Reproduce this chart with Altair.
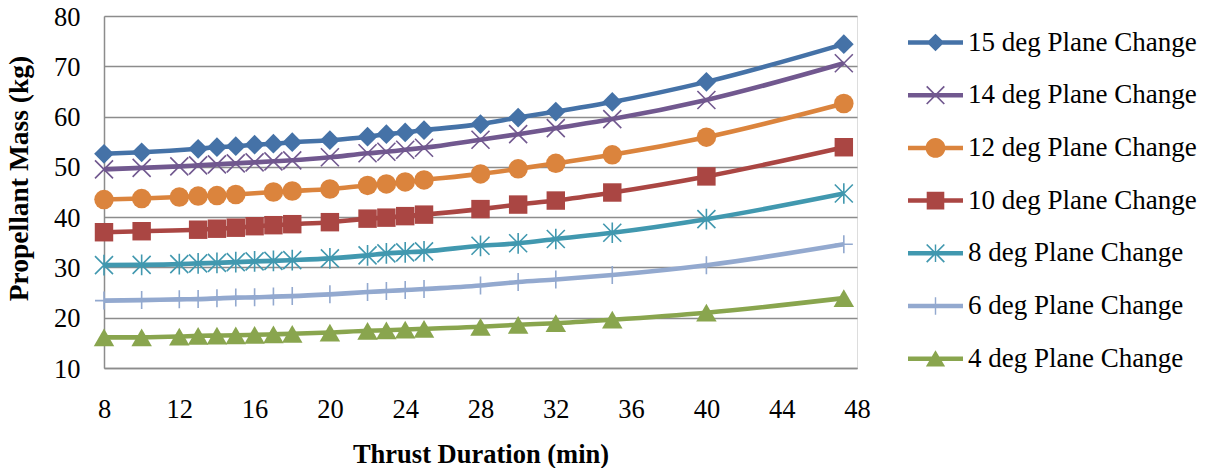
import json
import altair as alt
import pandas as pd

SERIES = ["15 deg Plane Change", "14 deg Plane Change", "12 deg Plane Change",
          "10 deg Plane Change", "8 deg Plane Change", "6 deg Plane Change",
          "4 deg Plane Change"]
COLORS = ["#4572A7", "#71588F", "#DB843D", "#AA4643", "#4198AF", "#93A9CF", "#89A54E"]

X_15 = [8, 10, 13, 14, 15, 16, 17, 18, 20, 22, 23, 24, 25, 28, 30, 32, 35, 40, 47.3]
Y_15 = [52.6, 52.9, 53.6, 53.9, 54.1, 54.4, 54.6, 54.9, 55.3, 56.0, 56.5, 56.85, 57.3, 58.5, 59.8, 61.0, 62.9, 66.9, 74.4]

X_14 = [8, 10, 12, 13, 14, 15, 16, 17, 18, 20, 22, 23, 24, 25, 28, 30, 32, 35, 40, 47.3]
Y_14 = [49.5, 49.8, 50.1, 50.3, 50.5, 50.7, 50.9, 51.1, 51.3, 51.9, 52.7, 53.0, 53.4, 53.8, 55.4, 56.5, 57.7, 59.5, 63.3, 70.6]

X_12 = [8, 10, 12, 13, 14, 15, 17, 18, 20, 22, 23, 24, 25, 28, 30, 32, 35, 40, 47.3]
Y_12 = [43.5, 43.7, 44.0, 44.2, 44.3, 44.5, 45.0, 45.2, 45.6, 46.3, 46.6, 47.0, 47.4, 48.6, 49.6, 50.7, 52.4, 55.9, 62.6]

X_10 = [8, 10, 13, 14, 15, 16, 17, 18, 20, 22, 23, 24, 25, 28, 30, 32, 35, 40, 47.3]
Y_10 = [37.0, 37.2, 37.5, 37.7, 37.9, 38.2, 38.4, 38.6, 39.0, 39.7, 39.9, 40.2, 40.5, 41.6, 42.5, 43.3, 44.9, 48.1, 53.9]

X_8 = [8, 10, 12, 13, 14, 15, 16, 17, 18, 20, 22, 23, 24, 25, 28, 30, 32, 35, 40, 47.3]
Y_8 = [30.45, 30.5, 30.65, 30.8, 30.9, 31.05, 31.2, 31.3, 31.45, 31.8, 32.4, 32.8, 33.0, 33.2, 34.3, 34.8, 35.65, 36.9, 39.6, 44.7]

X_6 = [8, 10, 12, 13, 14, 15, 16, 17, 18, 20, 22, 23, 24, 25, 28, 30, 32, 35, 40, 47.3]
Y_6 = [23.4, 23.5, 23.65, 23.7, 23.85, 24.0, 24.05, 24.2, 24.3, 24.65, 25.1, 25.3, 25.5, 25.7, 26.4, 27.1, 27.6, 28.5, 30.45, 34.6]

X_4 = [8, 10, 12, 13, 14, 15, 16, 17, 18, 20, 22, 23, 24, 25, 28, 30, 32, 35, 40, 47.3]
Y_4 = [16.1, 16.1, 16.25, 16.4, 16.45, 16.5, 16.6, 16.7, 16.8, 17.05, 17.4, 17.5, 17.65, 17.8, 18.2, 18.6, 18.9, 19.6, 21.0, 23.9]

X_TICKS = [8, 12, 16, 20, 24, 28, 32, 36, 40, 44, 48]
Y_TICKS = [10, 20, 30, 40, 50, 60, 70, 80]

XS = [X_15, X_14, X_12, X_10, X_8, X_6, X_4]
YS = [Y_15, Y_14, Y_12, Y_10, Y_8, Y_6, Y_4]

rows = []
for name, xs, ys in zip(SERIES, XS, YS):
    for x, y in zip(xs, ys):
        rows.append({"series": name, "t": x, "m": y})
df = pd.DataFrame(rows)

FONT = "Liberation Serif"
GRID = "#8c8c8c"

# marker shapes in the plot
SHAPES = ["diamond", "M-1,-1L1,1M-1,1L1,-1", "circle", "square",
          "M-1,-1L1,1M-1,1L1,-1M0,-1.15L0,1.15", "M0,-1L0,1M-1,0L1,0", "triangle-up"]
FILLED = [True, False, True, True, False, False, True]
SIZES = [390, 324, 380, 340, 324, 324, 420]

# legend symbols: line segment + marker, as filled paths
LINE = "M-1,-0.082L1,-0.082L1,0.082L-1,0.082Z"
a, e, t = 0.32, 0.022, 0.026
XP = (f"M{-a+e},{-a-e}L{a+e},{a-e}L{a-e},{a+e}L{-a-e},{-a+e}Z"
      f"M{a+e},{-a+e}L{-a+e},{a+e}L{-a-e},{a-e}L{a-e},{-a-e}Z")
VP = f"M{-t},{-a}L{t},{-a}L{t},{a}L{-t},{a}Z"
LEG_PATHS = [
    LINE + "M0,-0.32L0.32,0L0,0.32L-0.32,0Z",
    LINE + XP,
    LINE + "M-0.36,0A0.36,0.36 0 1,1 0.36,0A0.36,0.36 0 1,1 -0.36,0Z",
    LINE + "M-0.32,-0.32L0.32,-0.32L0.32,0.32L-0.32,0.32Z",
    LINE + XP + VP,
    LINE + VP,
    LINE + "M0,-0.31L0.35,0.28L-0.35,0.28Z",
]
idx = f"indexof({json.dumps(SERIES)}, datum.value)"
shape_expr = f"{json.dumps(LEG_PATHS)}[{idx}]"
fill_expr = f"{json.dumps(COLORS)}[{idx}]"

x_enc = alt.X("t:Q", scale=alt.Scale(domain=[8, 48], nice=False, zero=False),
              axis=alt.Axis(values=X_TICKS, grid=False, ticks=False,
                            domainColor=GRID, domainWidth=1.5,
                            labelFont=FONT, labelFontSize=26.5, labelColor="black",
                            labelBaseline="middle", labelPadding=41, labelFlush=False,
                            title="Thrust Duration (min)", titleFont=FONT,
                            titleFontSize=26.5, titleFontWeight="bold", titleColor="black",
                            titleBaseline="middle", titleY=86))
y_enc = alt.Y("m:Q", scale=alt.Scale(domain=[10, 80], nice=False, zero=False),
              axis=alt.Axis(values=Y_TICKS, grid=True, gridColor=GRID, gridWidth=1.5,
                            domainColor=GRID, domainWidth=1.5, ticks=False,
                            labelFont=FONT, labelFontSize=26.5, labelColor="black",
                            labelPadding=24, labelOffset=1,
                            title="Propellant Mass (kg)", titleFont=FONT,
                            titleFontSize=27.5, titleFontWeight="bold", titleColor="black",
                            titleBaseline="middle", titleAlign="center", titleAngle=270,
                            titleX=-85, titleY=162))

legend = alt.Legend(
    orient="none", legendX=804, legendY=-1, title=None, padding=0,
    labelFont=FONT, labelFontSize=27, labelColor="black", labelLimit=500,
    labelOffset=5, symbolSize=3025, rowPadding=11.7, symbolStrokeWidth=0,
    symbolType={"expr": shape_expr}, symbolFillColor={"expr": fill_expr},
    symbolOpacity=1,
)

lines = alt.Chart(df).mark_line(interpolate="monotone", strokeWidth=4.6).encode(
    x=x_enc, y=y_enc,
    color=alt.Color("series:N", scale=alt.Scale(domain=SERIES, range=COLORS), legend=legend),
    detail="series:N",
)

layers = [lines]
for i, name in enumerate(SERIES):
    sub = df[df["series"] == name]
    layers.append(
        alt.Chart(sub).mark_point(
            shape=SHAPES[i], filled=FILLED[i], size=SIZES[i], color=COLORS[i],
            opacity=1, strokeWidth=1.6,
        ).encode(x="t:Q", y="m:Q")
    )

chart = alt.layer(*layers).properties(
    width=753, height=352,
    autosize=alt.AutoSizeParams(type="none"),
    padding={"left": 96, "top": 8, "right": 342, "bottom": 100},
).configure_view(stroke=None).configure(background="white")

chart.save("out.html", embed_options={"renderer": "svg", "actions": False})
